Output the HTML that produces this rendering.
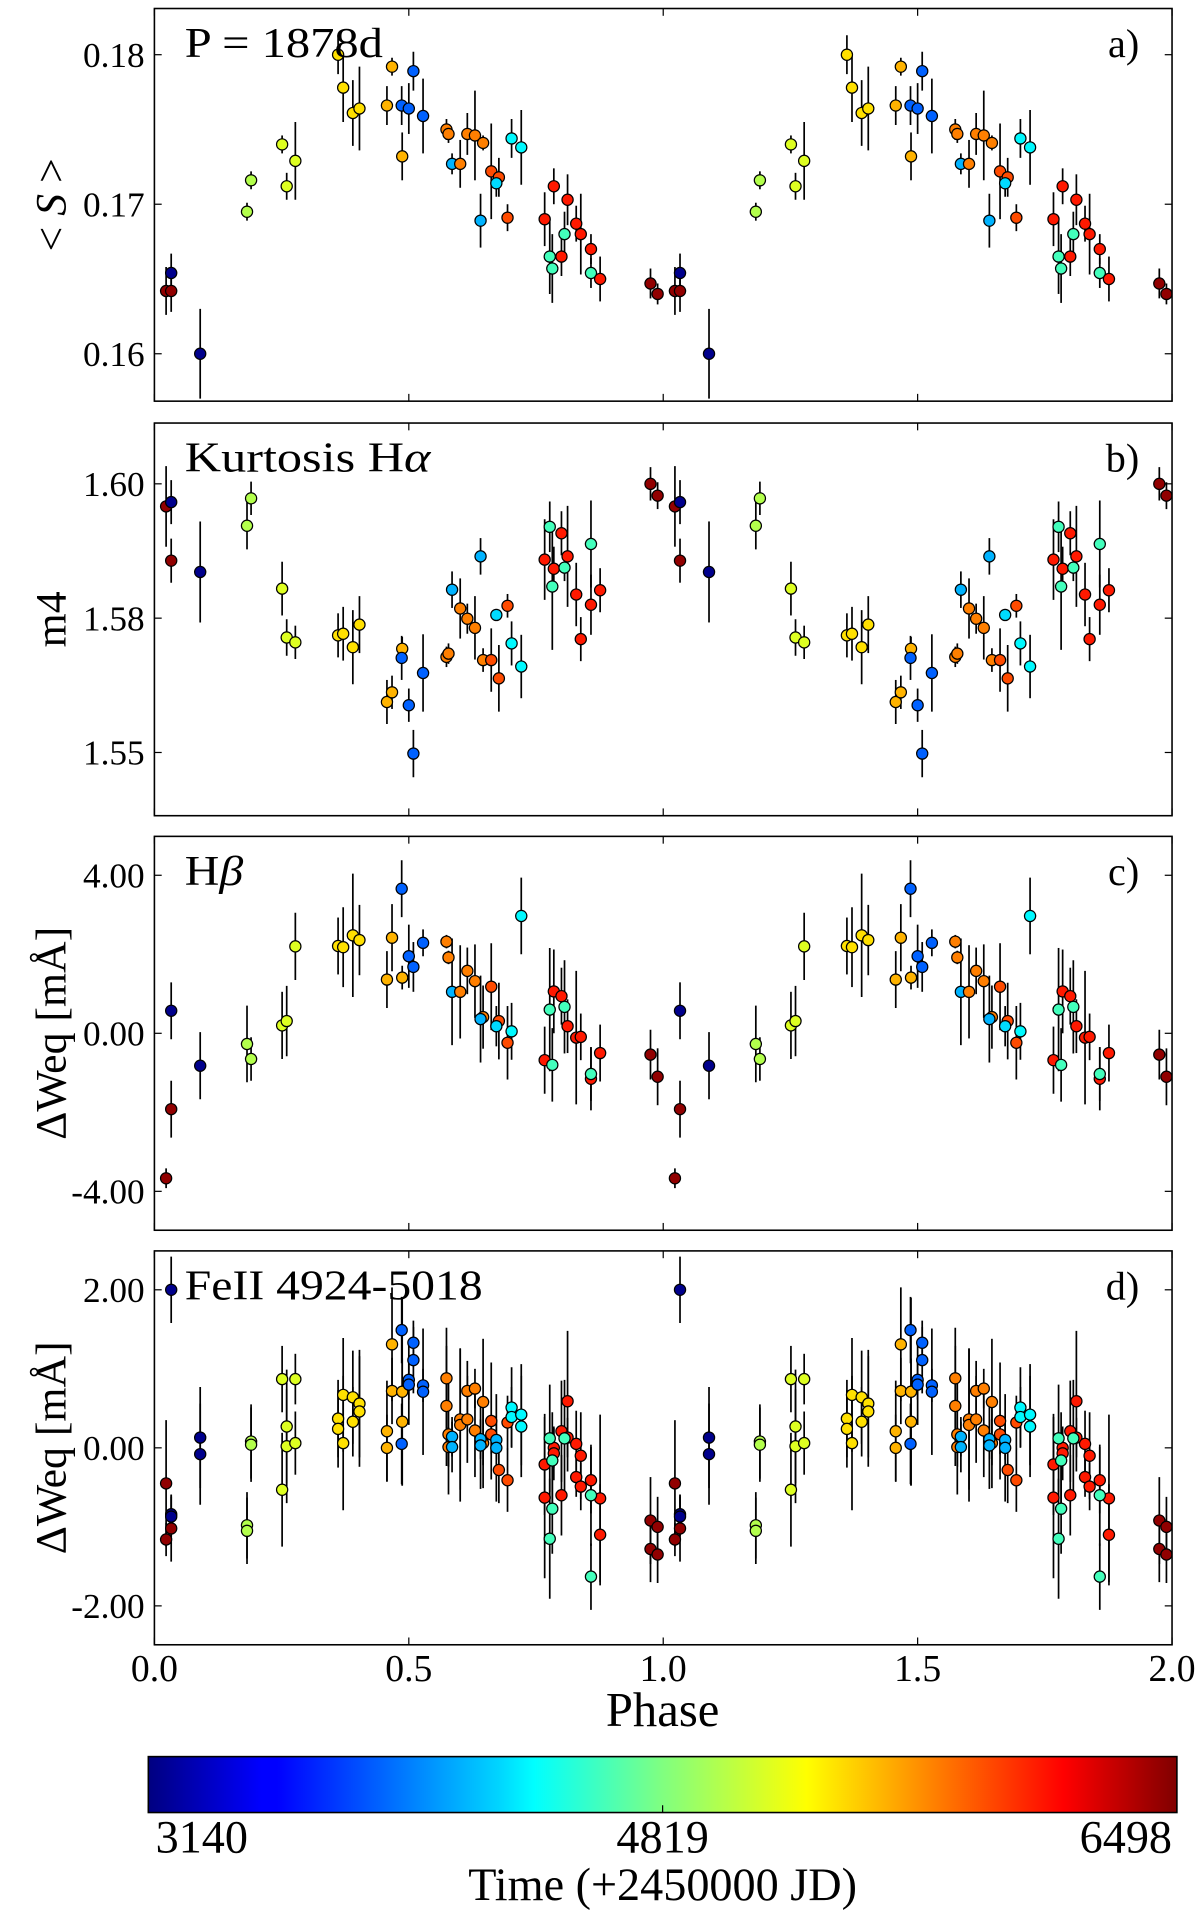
<!DOCTYPE html>
<html><head><meta charset="utf-8"><title>Phase-folded activity indicators</title>
<style>
html,body{margin:0;padding:0;background:#fff;}
svg{display:block;font-family:"Liberation Serif","DejaVu Serif",serif;}
</style></head>
<body>
<svg id="fig" width="1200" height="1911" viewBox="0 0 987 1572" preserveAspectRatio="none" xmlns="http://www.w3.org/2000/svg">
<defs>
<linearGradient id="jetgrad" x1="0" x2="1" y1="0" y2="0">
<stop offset="0" stop-color="#000080"/><stop offset="0.11" stop-color="#0000ff"/><stop offset="0.125" stop-color="#0000ff"/>
<stop offset="0.34" stop-color="#00d4ff"/><stop offset="0.375" stop-color="#00ffff" /><stop offset="0.5" stop-color="#80ff80"/>
<stop offset="0.64" stop-color="#ffff00"/><stop offset="0.89" stop-color="#ff0000"/><stop offset="1" stop-color="#800000"/>
</linearGradient>
</defs>
</svg>
<script>
// time colour codes (+2450000 JD)
const nv=3180, bl=3880, lb=4150, cb=4280, cy=4380, aq=4620, li=4990, yg=5130, ye=5340, og=5490, or=5660, orr=5830, rd=5995, dr=6440;
const timeMin=3140, timeMax=6498;

// shared observations for panels a, b, c
const phaseABC=[.023,.033,.033,.090,.182,.190,.251,.260,.277,.361,.371,.390,.403,.457,.467,.487,.486,.500,.509,.528,.574,.578,.585,.601,.615,.630,.646,.641,.662,.677,.672,.694,.702,.721,.767,.785,.777,.782,.800,.806,.812,.829,.838,.858,.858,.876,.975,.989];
const timeABC=[dr,nv,dr,nv,li,li,yg,yg,yg,ye,ye,ye,ye,og,og,og,bl,bl,bl,bl,or,or,lb,or,or,or,or,lb,orr,orr,cb,orr,cy,cy,rd,rd,aq,aq,rd,aq,rd,rd,rd,rd,aq,rd,dr,dr];
const valA=[.1642,.1654,.1642,.1600,.1695,.1716,.1740,.1712,.1729,.1800,.1778,.1761,.1764,.1766,.1792,.1732,.1766,.1764,.1789,.1759,.1750,.1747,.1727,.1727,.1747,.1746,.1741,.1689,.1722,.1718,.1714,.1691,.1744,.1738,.1690,.1712,.1665,.1657,.1665,.1680,.1703,.1687,.1680,.1670,.1654,.1650,.1647,.1640];
const errA=[.0016,.0013,.0014,.0030,.0006,.0006,.0006,.0009,.0026,.0013,.0023,.0022,.0028,.0013,.0006,.0016,.0013,.0017,.0013,.0025,.0007,.0006,.0007,.0016,.0014,.0030,.0005,.0018,.0032,.0013,.0009,.0009,.0013,.0025,.0018,.0012,.0025,.0023,.0013,.0015,.0017,.0012,.0027,.0010,.0010,.0015,.0010,.0007];
const valB=[1.5958,1.5966,1.5857,1.5836,1.5922,1.5973,1.5805,1.5714,1.5705,1.5718,1.5721,1.5696,1.5738,1.5594,1.5612,1.5693,1.5676,1.5588,1.5498,1.5648,1.5678,1.5684,1.5803,1.5768,1.5749,1.5732,1.5672,1.5865,1.5672,1.5638,1.5756,1.5773,1.5703,1.5660,1.5859,1.5842,1.5920,1.5809,1.5908,1.5844,1.5865,1.5794,1.5711,1.5775,1.5888,1.5802,1.6000,1.5978];
const errB=[.0075,.0041,.0041,.0094,.0044,.0031,.0050,.0034,.0031,.0041,.0050,.0069,.0053,.0041,.0031,.0022,.0041,.0031,.0044,.0072,.0019,.0019,.0034,.0056,.0028,.0059,.0022,.0034,.0059,.0062,.0006,.0022,.0041,.0059,.0075,.0041,.0047,.0118,.0041,.0025,.0094,.0059,.0041,.0056,.0081,.0041,.0031,.0025];
const valC=[-3.67,.57,-1.92,-.82,-.27,-.65,.20,.31,2.20,2.21,2.18,2.48,2.36,1.36,2.42,1.41,3.66,1.95,1.68,2.29,2.32,1.92,1.05,1.05,1.58,1.32,.41,.36,1.18,.31,.18,-.24,.05,2.97,-.68,1.06,.60,-.80,.94,.67,.18,-.11,-.09,-1.15,-1.03,-.50,-.54,-1.10];
const errC=[.25,.72,.72,.85,.97,.55,.85,.89,.85,.72,1.01,1.56,.89,.72,.85,.30,.72,.80,.63,.34,.17,.17,1.35,1.18,.59,.93,.80,1.10,1.10,.97,.51,.93,.72,.97,.85,1.06,1.56,.93,.72,1.18,.68,1.69,.59,.80,.68,.72,.63,.72];

// panel d observations
const phaseD=[.033,.033,.033,.090,.090,.023,.023,.033,.190,.190,.182,.182,.251,.251,.260,.260,.277,.277,.361,.361,.371,.371,.390,.390,.403,.403,.457,.457,.467,.467,.487,.487,.486,.486,.500,.500,.509,.509,.528,.528,.574,.574,.578,.578,.601,.601,.615,.615,.630,.630,.646,.646,.662,.662,.585,.585,.641,.641,.672,.672,.677,.694,.694,.702,.702,.721,.721,.767,.767,.785,.785,.800,.800,.812,.812,.829,.829,.838,.838,.858,.876,.876,.777,.777,.782,.782,.806,.858,.858,.975,.975,.989,.989];
const timeD=[nv,nv,nv,nv,nv,dr,dr,dr,li,li,li,li,yg,yg,yg,yg,yg,yg,ye,ye,ye,ye,ye,ye,ye,ye,og,og,og,og,og,og,bl,bl,bl,bl,bl,bl,bl,bl,or,or,or,or,or,or,or,or,or,or,or,or,orr,orr,lb,lb,lb,lb,lb,lb,orr,orr,orr,cy,cy,cy,cy,rd,rd,rd,rd,rd,rd,rd,rd,rd,rd,rd,rd,rd,rd,rd,aq,aq,aq,aq,aq,aq,aq,dr,dr,dr,dr];
const valD=[2.00,-.84,-.87,.13,-.08,-.45,-1.16,-1.02,.08,.04,-.98,-1.05,.87,-.53,.27,.02,.87,.06,.37,.24,.67,.06,.64,.33,.56,.46,.21,0,1.31,.72,.71,.33,1.49,.05,.86,.80,1.33,1.11,.79,.71,.88,.53,.17,.01,.36,.29,.72,.36,.75,.22,.58,.06,.34,.17,.14,.01,.11,.03,.10,0,-.28,.32,-.41,.51,.39,.42,.27,-.21,-.63,0,-.07,.21,-.60,.59,.13,.05,-.37,-.10,-.49,-.41,-.64,-1.10,.12,-1.15,-.16,-.77,.12,-.60,-1.63,-.92,-1.28,-1.00,-1.35];
const errD=[.42,.25,.25,.64,.64,.8,.21,.42,.47,.47,.42,.42,.42,.72,.72,.72,.32,.40,.49,.49,.72,.85,.59,.44,.68,.70,.64,.42,.72,.42,1.19,.8,.42,.51,.25,.51,.28,.42,.21,.8,.64,.76,.76,.25,.89,.97,.38,.55,.25,.59,.8,.57,.74,.25,.25,.32,.25,.55,.25,.68,.42,.34,.40,.51,.38,.64,.64,.64,1.02,.25,.34,.64,.51,.89,.25,.42,.25,.55,.30,.42,1.06,.64,.68,.76,.61,.57,.74,.64,.42,.55,.42,.38,.36];

const xTicks=[0,0.5,1,1.5,2];
const xTickLabels=["0.0","0.5","1.0","1.5","2.0"];
const ticksA=[0.18,0.17,0.16], tickLabelsA=["0.18","0.17","0.16"];
const ticksB=[1.60,1.575,1.55], tickLabelsB=["1.60","1.58","1.55"];
const ticksC=[4,0,-4], tickLabelsC=["4.00","0.00","-4.00"];
const ticksD=[2,0,-2], tickLabelsD=["2.00","0.00","-2.00"];
const cbTicks=[3140,4819,6498], cbTickLabels=["3140","4819","6498"];

const NS="http://www.w3.org/2000/svg";
const svg=document.getElementById('fig');
function mk(tag,attrs,parent){const e=document.createElementNS(NS,tag);for(const k in attrs)e.setAttribute(k,attrs[k]);(parent||svg).appendChild(e);return e;}
function clip01(v){return Math.max(0,Math.min(1,v));}
function jet(t){const n=clip01((t-timeMin)/(timeMax-timeMin));
 const r=clip01(Math.min(4*n-1.5,-4*n+4.5)),g=clip01(Math.min(4*n-0.5,-4*n+3.5)),b=clip01(Math.min(4*n+0.5,-4*n+2.5));
 return `rgb(${Math.round(r*255)},${Math.round(g*255)},${Math.round(b*255)})`;}

const X0=127,X1=964;
const xs=p=>X0+(p/2)*(X1-X0);

const panels=[
 {id:'a',top:7,bot:330,ref:0.18,refY:45,scale:12300,ph:phaseABC,tm:timeABC,val:valA,err:errA,ticks:ticksA,tl:tickLabelsA,title:'P = 1878d',tw:163,tag:'a)',ylab:'< S >'},
 {id:'b',top:348,bot:671,ref:1.60,refY:398,scale:4420,ph:phaseABC,tm:timeABC,val:valB,err:errB,ticks:ticksB,tl:tickLabelsB,title:'Kurtosis H',tw:202,tag:'b)',ylab:'m4'},
 {id:'c',top:688,bot:1012,ref:0,refY:850,scale:32.5,ph:phaseABC,tm:timeABC,val:valC,err:errC,ticks:ticksC,tl:tickLabelsC,title:'H',tw:48,tag:'c)',ylab:'ΔWeq [mÅ]'},
 {id:'d',top:1029,bot:1353,ref:0,refY:1191,scale:65,ph:phaseD,tm:timeD,val:valD,err:errD,ticks:ticksD,tl:tickLabelsD,title:'FeII 4924-5018',tw:245,tag:'d)',ylab:'ΔWeq [mÅ]'}
];

panels.forEach(P=>{
 const ys=v=>P.refY+(P.ref-v)*P.scale;
 const g=mk('g',{});
 
 
 const cp=mk('clipPath',{id:'clip'+P.id},g);
 mk('rect',{x:X0,y:P.top,width:X1-X0,height:P.bot-P.top},cp);
 const pts=mk('g',{'clip-path':`url(#clip${P.id})`},g);
 
 
 for(let rep=0;rep<2;rep++){
  P.ph.forEach((p,i)=>{
   const ph=p+rep; if(ph>2.01) return;
   const x=xs(ph),y=ys(P.val[i]),e=P.err[i]*P.scale;
   const eb=mk('line',{x1:x,x2:x,y1:y-e,y2:y+e,stroke:'#000','stroke-width':1.4},pts);
   
   
  });
  P.ph.forEach((p,i)=>{
   const ph=p+rep; if(ph>2.01) return;
   const c=mk('circle',{cx:xs(ph),cy:ys(P.val[i]),r:4.6,fill:jet(P.tm[i]),stroke:'#000','stroke-width':1},pts);
   
   
  });
 }
 const fr=mk('rect',{x:X0,y:P.top,width:X1-X0,height:P.bot-P.top,fill:'none',stroke:'#000','stroke-width':1.3},g);
 
 
 xTicks.forEach(t=>{const x=xs(t);
  mk('line',{x1:x,x2:x,y1:P.bot,y2:P.bot-6,stroke:'#000','stroke-width':1},g);
  mk('line',{x1:x,x2:x,y1:P.top,y2:P.top+6,stroke:'#000','stroke-width':1},g);});
 P.ticks.forEach((t,k)=>{const y=ys(t);
  mk('line',{x1:X0,x2:X0+6,y1:y,y2:y,stroke:'#000','stroke-width':1},g);
  mk('line',{x1:X1,x2:X1-6,y1:y,y2:y,stroke:'#000','stroke-width':1},g);
  const tl=mk('text',{x:119,y:y+10,'text-anchor':'end','font-size':29},g);
  tl.textContent=P.tl[k];
  
  });
 const ttl=mk('text',{x:152,y:P.top+40,'font-size':35,textLength:P.tw,lengthAdjust:'spacingAndGlyphs'},g);
 
 
 ttl.textContent=P.title;
 if(P.id==='b'){const s=mk('tspan',{'font-style':'italic'},ttl);s.textContent='α';}
 if(P.id==='c'){const s=mk('tspan',{'font-style':'italic'},ttl);s.textContent='β';}
 const tg=mk('text',{x:937,y:P.top+40,'text-anchor':'end','font-size':33},g);
 tg.textContent=P.tag;
 
 
 const midY=(P.top+P.bot)/2;
 const yl=mk('text',{x:0,y:0,'text-anchor':'middle','font-size':36,transform:`translate(54,${midY}) rotate(-90)`},g);
 if(P.id==='a'){yl.textContent='< ';const s=mk('tspan',{'font-style':'italic'},yl);s.textContent='S';const s2=mk('tspan',{},yl);s2.textContent=' >';}
 else yl.textContent=P.ylab;
 
 
});

xTicks.forEach((t,k)=>{const l=mk('text',{x:xs(t),y:1383,'text-anchor':'middle','font-size':31});
 l.textContent=xTickLabels[k];
 
 });
const xt=mk('text',{x:545,y:1420,'text-anchor':'middle','font-size':40});
xt.textContent='Phase';



// colorbar
const CB0=122,CB1=968;
const cbar=mk('rect',{x:CB0,y:1445,width:CB1-CB0,height:46,fill:'url(#jetgrad)',stroke:'#000','stroke-width':1.3});


const cbx=t=>CB0+(t-timeMin)/(timeMax-timeMin)*(CB1-CB0);
cbTicks.forEach((t,k)=>{
 mk('line',{x1:cbx(t),x2:cbx(t),y1:1491,y2:1485,stroke:'#000','stroke-width':1});
 const anchor=k===0?'start':(k===2?'end':'middle');
 const xx=k===0?cbx(t)+6:(k===2?cbx(t)-4:cbx(t));
 const l=mk('text',{x:xx,y:1524,'text-anchor':anchor,'font-size':38});
 l.textContent=cbTickLabels[k];
 
 });
const cbTitle=mk('text',{x:545,y:1563,'text-anchor':'middle','font-size':38});
cbTitle.textContent='Time (+2450000 JD)';


</script>
</body></html>
